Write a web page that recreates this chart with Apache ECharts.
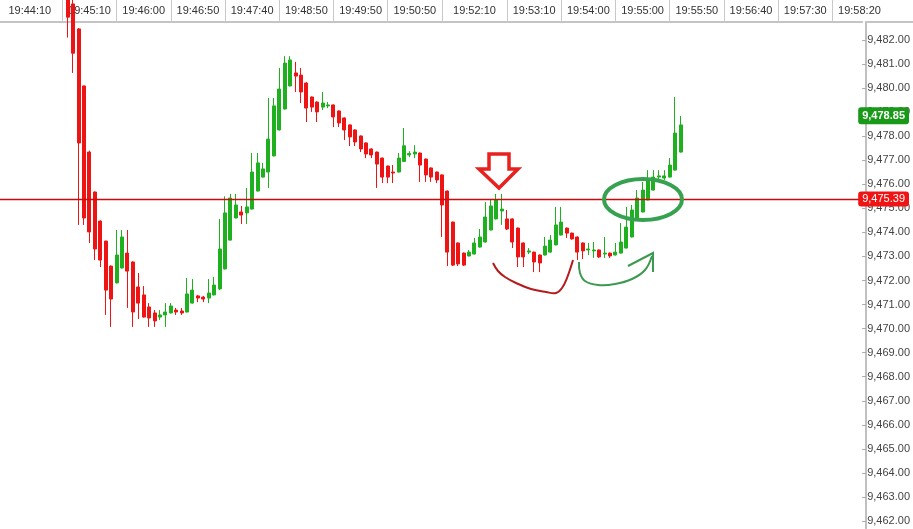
<!DOCTYPE html>
<html><head><meta charset="utf-8">
<script src="https://cdn.jsdelivr.net/npm/echarts@6/dist/echarts.min.js"></script>
<style>html,body{margin:0;padding:0;background:#fff}#c{width:913px;height:529px}</style>
</head><body><div id="c"></div>
<script>
const openP = [9484.20,9483.50,9482.46,9480.09,9477.34,9475.68,9474.47,9473.64,9472.60,9471.90,
9472.52,9473.14,9472.77,9471.73,9471.40,9470.90,9470.65,9470.48,9470.57,9470.65,
9470.77,9470.73,9470.69,9471.06,9471.36,9471.31,9471.27,9471.40,9471.65,9472.48,
9473.68,9474.60,9474.85,9474.81,9474.97,9475.72,9476.30,9476.51,9477.18,9478.26,
9479.13,9480.09,9480.63,9480.54,9480.21,9479.63,9479.42,9479.21,9479.26,9479.30,
9479.05,9478.76,9478.47,9478.26,9478.01,9477.72,9477.47,9477.34,9477.09,9476.76,
9476.51,9476.51,9476.95,9477.22,9477.26,9477.30,9477.05,9476.68,9476.51,9476.39,
9475.72,9474.43,9473.56,9473.14,9473.02,9473.10,9473.39,9473.60,9474.10,9474.56,
9474.89,9474.56,9474.56,9474.18,9473.56,9473.18,9473.18,9473.06,9473.06,9473.18,
9473.48,9473.89,9474.18,9473.97,9473.81,9473.56,9473.27,9473.23,9473.27,9473.10,
9473.14,9473.06,9473.14,9473.35,9473.81,9474.60,9474.85,9475.35,9475.76,9476.30,
9476.26,9476.30,9476.59,9477.34];
const closeP = [9482.95,9481.45,9477.72,9474.60,9474.02,9473.31,9472.85,9471.60,9471.23,9473.06,
9473.81,9472.39,9470.69,9471.06,9470.48,9470.44,9470.32,9470.57,9470.69,9470.94,
9470.69,9470.65,9471.44,9471.60,9471.27,9471.23,9471.48,9471.81,9473.31,9474.81,
9475.43,9475.14,9474.72,9475.06,9476.51,9476.89,9476.64,9477.88,9479.26,9479.96,
9481.04,9481.17,9480.50,9479.84,9479.17,9479.21,9479.01,9479.38,9479.30,9478.80,
9478.55,9478.26,9477.97,9477.76,9477.47,9477.26,9477.22,9476.84,9476.30,9476.30,
9476.47,9477.09,9477.60,9477.28,9477.34,9476.80,9476.39,9476.30,9476.18,9475.14,
9473.18,9472.64,9472.69,9472.64,9473.18,9473.56,9473.81,9474.64,9475.10,9475.35,
9474.97,9474.14,9473.60,9472.98,9472.98,9473.23,9472.77,9472.73,9473.43,9473.68,
9474.31,9474.43,9473.97,9473.73,9473.18,9473.23,9473.31,9473.27,9472.98,9473.14,
9473.02,9473.18,9473.60,9474.22,9474.93,9475.43,9475.76,9476.22,9476.30,9476.35,
9476.35,9476.80,9478.13,9478.47];
const lowP = [9482.10,9480.63,9474.31,9474.31,9473.56,9472.85,9472.56,9470.57,9470.07,9471.88,
9472.50,9470.86,9470.07,9470.40,9470.46,9470.07,9470.07,9470.36,9470.07,9470.63,
9470.57,9470.57,9470.67,9471.04,9471.10,9471.10,9471.06,9471.38,9471.60,9472.46,
9473.66,9474.58,9474.35,9474.35,9474.95,9475.70,9476.28,9475.85,9477.16,9478.24,
9479.11,9480.07,9479.84,9479.38,9478.59,9479.01,9478.59,9479.09,9479.17,9478.38,
9478.38,9477.84,9477.59,9477.59,9477.34,9477.09,9477.09,9475.85,9476.05,9476.05,
9476.05,9476.49,9476.93,9477.13,9477.09,9476.10,9476.10,9476.10,9476.05,9473.81,
9472.60,9472.60,9472.60,9472.60,9473.00,9473.08,9473.37,9473.58,9474.08,9474.54,
9474.31,9474.10,9473.35,9472.56,9472.56,9473.10,9472.35,9472.35,9473.04,9473.16,
9473.46,9473.87,9473.77,9473.70,9472.85,9472.89,9473.06,9472.94,9472.94,9472.94,
9472.94,9473.04,9473.12,9473.33,9473.79,9474.58,9474.83,9475.33,9475.74,9476.10,
9476.18,9476.28,9476.57,9477.32];
const highP = [9484.50,9483.80,9482.50,9480.10,9477.40,9475.70,9474.50,9473.65,9472.62,9474.10,
9474.10,9474.10,9472.80,9472.31,9471.77,9471.06,9470.77,9470.77,9471.06,9471.06,
9470.86,9470.86,9472.10,9472.06,9471.40,9471.36,9472.06,9472.15,9474.56,9475.50,
9475.60,9475.60,9475.10,9475.85,9477.30,9477.30,9476.89,9479.59,9479.59,9480.84,
9481.33,9481.33,9481.09,9480.84,9480.25,9479.65,9479.45,9479.84,9479.42,9479.32,
9479.07,9478.78,9478.49,9478.28,9478.03,9477.74,9477.49,9477.36,9477.11,9476.78,
9476.80,9477.30,9478.34,9477.38,9477.63,9477.32,9477.07,9476.70,9476.53,9476.41,
9475.74,9474.45,9473.58,9473.16,9473.27,9473.77,9474.14,9475.26,9475.35,9475.60,
9475.60,9474.93,9474.58,9474.20,9473.58,9473.35,9473.20,9473.08,9473.81,9473.89,
9475.06,9475.06,9474.20,9473.99,9473.83,9473.58,9473.56,9473.60,9473.29,9473.81,
9473.16,9473.56,9474.39,9475.06,9475.14,9475.76,9476.10,9476.59,9476.59,9476.59,
9476.59,9477.09,9479.63,9478.84];

const timeLabels = ['19:44:10','19:45:10','19:46:00','19:46:50','19:47:40','19:48:50','19:49:50','19:50:50',
  '19:52:10','19:53:10','19:54:00','19:55:00','19:55:50','19:56:40','19:57:30','19:58:20'];
const timeLabelSlots = [5,16,26,36,46,56,66,76,87,98,108,118,128,138,148,158];
const separatorSlots = [11,21,31,41,51,61,71,81,93,103,113,123,133,143,153];
const levelPrice = 9475.39;
const lastPrice = 9478.85;
const slotCount = 159;
const firstCandleSlot = 12;

const categories = Array.from({length: slotCount}, (_, i) => String(i));
const labelMap = {};
timeLabelSlots.forEach((s, i) => { labelMap[s] = timeLabels[i]; });
const sepSet = new Set(separatorSlots);
const candles = openP.map((o, i) => [firstCandleSlot + i, o, closeP[i], lowP[i], highP[i]]);
const fmt = v => Number(v).toLocaleString('en-US', {minimumFractionDigits: 2, maximumFractionDigits: 2});
const FONT = 'Liberation Sans, Arial, sans-serif';
const UP = '#1fb01f', DOWN = '#ee1414';

// price axis of the full-height frame grid: same scale (481 px per 20 points),
// shifted half a pixel so the level line sits on a pixel row
const yMin = 9462, yMax = 9482;
const pxPerPoint = 481 / (yMax - yMin);
const frameMax = yMax + (40.5 - 22) / pxPerPoint;
const frameMin = yMin - (529 - 521.5) / pxPerPoint;

const chart = echarts.init(document.getElementById('c'), null, {renderer: 'canvas'});
chart.setOption({
  animation: false,
  backgroundColor: '#ffffff',
  grid: [
    {left: 0, right: 47, top: 40, bottom: 8},
    {left: 0, right: 47, top: 22, bottom: 0}
  ],
  xAxis: [
    {
      type: 'category', gridIndex: 0, data: categories, boundaryGap: true,
      position: 'top', offset: 18,
      axisLine: {show: true, onZero: false, lineStyle: {color: '#c4c4c4', width: 2}},
      axisTick: {show: true, alignWithLabel: true, length: 22,
        interval: (idx) => sepSet.has(idx),
        lineStyle: {color: '#c8c8c8', width: 1}},
      axisLabel: {show: true, interval: (idx) => labelMap[idx] !== undefined,
        formatter: (v, idx) => labelMap[idx] || '',
        color: '#333', fontSize: 11, fontFamily: FONT, margin: 6},
      splitLine: {show: false}
    },
    {type: 'value', gridIndex: 1, min: 0, max: 1, show: false}
  ],
  yAxis: [
    {
      type: 'value', gridIndex: 0, position: 'right', min: yMin, max: yMax, interval: 1,
      axisLine: {show: false, onZero: false},
      axisTick: {show: true, length: 4, lineStyle: {color: '#aaa'}},
      axisLabel: {show: true, formatter: fmt, color: '#444', fontSize: 11, fontFamily: FONT, margin: 5},
      splitLine: {show: false}
    },
    {
      type: 'value', gridIndex: 1, position: 'right', min: frameMin, max: frameMax,
      axisLine: {show: true, onZero: false, lineStyle: {color: '#c0c0c0', width: 2}},
      axisTick: {show: false}, axisLabel: {show: false}, splitLine: {show: false}
    }
  ],
  series: [
    {
      type: 'line', xAxisIndex: 1, yAxisIndex: 1, silent: true, symbol: 'none', z: 3,
      data: [[0, levelPrice], [1, levelPrice]],
      lineStyle: {color: '#cc0a0a', width: 1.5}
    },
    {
      type: 'candlestick', xAxisIndex: 0, yAxisIndex: 0,
      clip: false, barWidth: 3.5,
      encode: {x: 0, y: [1, 2, 3, 4]},
      data: candles,
      itemStyle: {color: UP, color0: DOWN, borderColor: UP, borderColor0: DOWN, borderWidth: 1},
      markLine: {
        silent: true, symbol: ['none', 'none'], animation: false,
        lineStyle: {color: 'rgba(0,0,0,0)', width: 1, type: 'solid'},
        data: [
          {yAxis: levelPrice,
           lineStyle: {color: 'rgba(0,0,0,0)', width: 1, type: 'solid'},
           label: {show: true, position: 'end', distance: -4, formatter: () => fmt(levelPrice),
             color: '#fff', backgroundColor: '#f01414', padding: [2, 4, 2, 4], borderRadius: 3,
             fontSize: 11, fontFamily: FONT}},
          {yAxis: lastPrice,
           lineStyle: {color: 'rgba(0,0,0,0)', width: 1, type: 'solid'},
           label: {show: true, position: 'end', distance: -4, formatter: () => fmt(lastPrice),
             color: '#fff', backgroundColor: '#189a18', padding: [3, 4, 3, 4], borderRadius: 3,
             fontSize: 11, fontWeight: 'bold', fontFamily: FONT}}
        ]
      }
    }
  ],
  graphic: [
    {type: 'line', z: 1, shape: {x1: 866, y1: 22, x2: 913, y2: 22}, style: {stroke: '#c4c4c4', lineWidth: 2}},
    {type: 'polygon', z: 100, shape: {points: [[489,154],[509,154],[509,169],[518,169],[499,188],[479,169],[489,169]]},
     style: {fill: 'none', stroke: '#e8201e', lineWidth: 3.5}},
    {type: 'polyline', z: 100, shape: {smooth: 0.4, points: [[493,263],[498,271],[505,277],[516,283],[531,289],[546,292],[556,293],[562,288],[567,278],[573,260]]},
     style: {fill: 'none', stroke: '#b51a1c', lineWidth: 2}},
    {type: 'polyline', z: 100, shape: {smooth: 0.4, points: [[579,262],[580,273],[585,281],[598,285],[615,284],[632,279],[645,270],[652,256]]},
     style: {fill: 'none', stroke: '#3c9a50', lineWidth: 2}},
    {type: 'polyline', z: 100, shape: {points: [[628,266],[653,253],[653,272]]},
     style: {fill: 'none', stroke: '#3c9a50', lineWidth: 2}},
    {type: 'ellipse', z: 100, shape: {cx: 643, cy: 199.5, rx: 39, ry: 20.5},
     style: {fill: 'none', stroke: '#36a14f', lineWidth: 4}}
  ]
});
</script></body></html>
